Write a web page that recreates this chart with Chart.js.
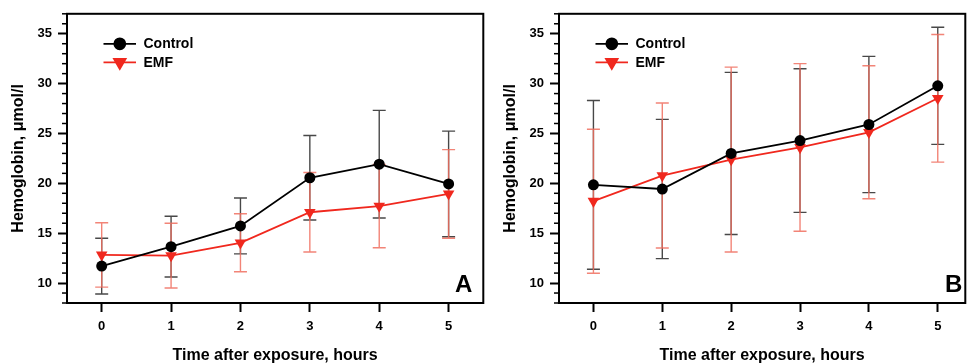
<!DOCTYPE html>
<html><head><meta charset="utf-8">
<script src="https://cdn.jsdelivr.net/npm/chart.js@4"></script>
<style>
html,body{margin:0;padding:0;background:#fff;overflow:hidden;width:972px;height:364px;}
#ca{position:absolute;left:0;top:0;}
#cb{position:absolute;left:486px;top:0;}
</style></head><body>
<canvas id="ca" width="490" height="364"></canvas>
<canvas id="cb" width="486" height="364"></canvas>
<script>
const hours = [0, 1, 2, 3, 4, 5];
const xTickLabels = ['0', '1', '2', '3', '4', '5'];
const yTicks = [10, 15, 20, 25, 30, 35];
const seriesNames = ['Control', 'EMF'];
const controlA    = [11.7, 13.65, 15.73, 20.56, 21.92, 19.94];
const controlAErr = [2.8, 3.05, 2.8, 4.24, 5.4, 5.3];
const emfA        = [12.82, 12.75, 14.04, 17.1, 17.72, 18.94];
const emfAErr     = [3.23, 3.25, 2.91, 3.99, 4.18, 4.44];
const controlB    = [19.85, 19.43, 23.0, 24.29, 25.9, 29.78];
const controlBErr = [8.46, 6.98, 8.13, 7.2, 6.83, 5.87];
const emfB        = [18.21, 20.78, 22.38, 23.6, 25.12, 28.53];
const emfBErr     = [7.22, 7.27, 9.27, 8.4, 6.67, 6.4];

const FONT = '"Liberation Sans", Arial, Helvetica, sans-serif';
Chart.defaults.font.family = FONT;
Chart.defaults.font.weight = 'bold';
Chart.defaults.color = '#000';

const BLACK = '#000000';
const RED = '#f0281e';

const decor = {
  id: 'decor',
  beforeDatasetsDraw(chart) {
    const {ctx, scales: {x, y}} = chart;
    ctx.save();
    ctx.beginPath();
    ctx.rect(chart.chartArea.left, chart.chartArea.top, chart.chartArea.width, chart.chartArea.height);
    ctx.clip();
    chart.data.datasets.forEach(ds => {
      ctx.strokeStyle = ds.errColor;
      ctx.lineWidth = 1.4;
      ds.data.forEach((p, i) => {
        const e = ds.err[i];
        const px = x.getPixelForValue(p.x);
        const t = y.getPixelForValue(p.y + e);
        const b = y.getPixelForValue(p.y - e);
        ctx.beginPath();
        ctx.moveTo(px, t); ctx.lineTo(px, b);
        ctx.moveTo(px - 6.5, t); ctx.lineTo(px + 6.5, t);
        ctx.moveTo(px - 6.5, b); ctx.lineTo(px + 6.5, b);
        ctx.stroke();
      });
    });
    ctx.restore();
  },
  afterDraw(chart, args, opts) {
    const {ctx, chartArea: ca, scales: {y}} = chart;
    ctx.save();
    // frame
    ctx.strokeStyle = '#000';
    ctx.lineWidth = 2;
    ctx.strokeRect(ca.left, ca.top, ca.right - ca.left, ca.bottom - ca.top);
    // minor y ticks
    ctx.lineWidth = 1.5;
    for (let v = Math.ceil(y.min); v <= Math.floor(y.max); v++) {
      if (v % 5 === 0) continue;
      const py = y.getPixelForValue(v);
      ctx.beginPath(); ctx.moveTo(ca.left - 5, py); ctx.lineTo(ca.left, py); ctx.stroke();
    }
    // legend
    const ys = [ca.top + 30, ca.top + 48.5];
    chart.data.datasets.forEach((ds, i) => {
      const ly = ys[i];
      ctx.strokeStyle = ds.borderColor;
      ctx.lineWidth = 1.8;
      ctx.beginPath(); ctx.moveTo(ca.left + 36.5, ly); ctx.lineTo(ca.left + 69, ly); ctx.stroke();
      Chart.helpers.drawPoint(ctx, {
        pointStyle: ds.pointStyle, radius: ds.pointRadius, rotation: ds.pointRotation || 0,
        borderWidth: 1
      }, ca.left + 52.8, ly + (ds.legendDy || 0));
      ctx.fillStyle = ds.pointBackgroundColor;
      ctx.fill();
      ctx.fillStyle = '#000';
      ctx.font = 'bold 14px ' + FONT;
      ctx.textBaseline = 'middle';
      ctx.textAlign = 'left';
      ctx.fillText(ds.label, ca.left + 76.5, ly + 0.5);
    });
    // panel letter
    ctx.font = 'bold 24px ' + FONT;
    ctx.textAlign = 'right';
    ctx.textBaseline = 'alphabetic';
    ctx.fillStyle = '#000';
    ctx.fillText(opts.letter, ca.right - opts.letterInset, ca.bottom - 11.5);
    ctx.restore();
  }
};

function makeChart(id, ctrl, ctrlErr, emf, emfErr, cfg) {
  const toPts = arr => hours.map((h, i) => ({x: h, y: arr[i]}));
  return new Chart(document.getElementById(id), {
    type: 'line',
    data: {
      datasets: [
        {
          label: seriesNames[0], data: toPts(ctrl), err: ctrlErr, errColor: 'rgba(40,40,40,0.85)',
          borderColor: BLACK, borderWidth: 1.8, pointStyle: 'circle', pointRadius: 5.5,
          pointBackgroundColor: BLACK, pointBorderColor: BLACK, pointBorderWidth: 0, tension: 0
        },
        {
          label: seriesNames[1], data: toPts(emf), err: emfErr, errColor: 'rgba(240,110,95,0.85)',
          borderColor: RED, borderWidth: 1.8, pointStyle: 'triangle', pointRadius: 6.7, pointRotation: 180,
          rotation: 180, pointBackgroundColor: RED, pointBorderColor: RED, pointBorderWidth: 0, tension: 0
        }
      ]
    },
    options: {
      responsive: false,
      animation: false,
      events: [],
      layout: {padding: cfg.padding},
      plugins: {legend: {display: false}, tooltip: {enabled: false}, decor: {letter: cfg.letter, letterInset: cfg.letterInset}},
      scales: {
        x: {
          type: 'linear', min: -0.5, max: cfg.xMax,
          afterBuildTicks: s => { s.ticks = hours.map(v => ({value: v})); },
          afterFit: s => { s.height = 61; },
          ticks: {callback: (v) => xTickLabels[hours.indexOf(v)], font: {size: 13, weight: 'bold'}, padding: 7, color: '#000'},
          grid: {drawOnChartArea: false, drawTicks: true, tickLength: 9, tickWidth: 2, tickColor: '#000'},
          border: {display: false},
          title: {display: true, text: 'Time after exposure, hours', font: {size: 16, weight: 'bold'}, padding: {top: 0, bottom: -1}, color: '#000'}
        },
        y: {
          type: 'linear', min: 8, max: 37,
          afterBuildTicks: s => { s.ticks = yTicks.map(v => ({value: v})); },
          afterFit: s => { s.width = cfg.yWidth; },
          ticks: {font: {size: 13, weight: 'bold'}, padding: 6, color: '#000'},
          grid: {drawOnChartArea: false, drawTicks: true, tickLength: 9, tickWidth: 2, tickColor: '#000'},
          border: {display: false},
          title: {display: true, text: 'Hemoglobin, \u03bcmol/l', font: {size: 16, weight: 'bold'}, padding: {top: cfg.yTitlePad, bottom: 0}, color: '#000'}
        }
      }
    },
    plugins: [decor]
  });
}

makeChart('ca', controlA, controlAErr, emfA, emfAErr,
  {padding: {left: 0, top: 12, right: 4, bottom: 0}, yWidth: 67, xMax: 5.5, yTitlePad: 8.5, letter: 'A', letterInset: 11});
makeChart('cb', controlB, controlBErr, emfB, emfBErr,
  {padding: {left: 0, top: 12, right: 1, bottom: 0}, yWidth: 73, xMax: 5.4, yTitlePad: 14.5, letter: 'B', letterInset: 3});
</script>
</body></html>
